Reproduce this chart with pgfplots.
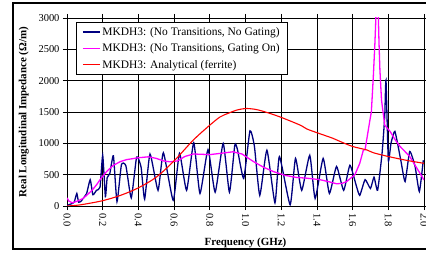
\documentclass[border=0pt]{standalone}
\usepackage{fontspec}
\setmainfont{Liberation Serif}
\usepackage{pgfplots}
\pgfplotsset{compat=1.18}
\definecolor{navyb}{RGB}{0,0,128}
\definecolor{magp}{RGB}{255,0,255}
\definecolor{redl}{RGB}{255,0,0}
\begin{document}
\begin{tikzpicture}[x=1bp,y=1bp]
\useasboundingbox (-67bp,-48bp) rectangle (359bp,206bp);
\draw[line width=1.2bp] (-54bp,-43bp) rectangle (365bp,203bp);
\begin{axis}[
  at={(0,0)}, anchor=south west,
  scale only axis, width=357bp, height=188bp,
  xmin=0, xmax=2, ymin=0, ymax=3000,
  xtick={0,0.2,...,2.01}, ytick={0,500,...,3000},
  tick align=outside, major tick length=4bp,
  grid=major, grid style={black, line width=0.7bp},
  axis line style={black, line width=0.9bp},
  tick style={black, line width=0.8bp},
  xticklabel style={rotate=-90, anchor=west, font=\fontsize{10.5}{12}\selectfont},
  yticklabel style={font=\fontsize{10.5}{12}\selectfont},
  /pgf/number format/assume math mode=true,
  xticklabel={\pgfmathprintnumber[fixed,precision=1,fixed zerofill]{\tick}},
  yticklabel={\pgfmathprintnumber[fixed,precision=0,1000 sep={}]{\tick}},
  scaled x ticks=false, scaled y ticks=false,
  xlabel={\textbf{Frequency (GHz)}},
  ylabel={\textbf{Real Longitudinal Impedance (Ω/m)}},
  label style={font=\fontsize{11}{13}\selectfont},
  xlabel style={yshift=-4bp},
  ylabel style={yshift=3bp},
  legend style={at={(0.025,0.979)}, anchor=north west, draw=black,
    fill=white, font=\fontsize{11.5}{13}\selectfont, row sep=3bp,
    inner xsep=6bp, inner ysep=3bp, cells={anchor=west}},
  legend cell align=left,
  clip=true,
]
\addplot[navyb, line width=1.3bp, smooth, tension=0.3] coordinates {
(0.00,10) (0.02,30) (0.04,60) (0.055,200) (0.065,60) (0.08,80) (0.09,120) (0.11,200)
(0.13,420) (0.145,180) (0.165,250) (0.185,300) (0.20,810) (0.215,150) (0.225,450)
(0.24,520) (0.26,800) (0.28,70) (0.305,660) (0.33,640) (0.36,130) (0.39,780) (0.415,620)
(0.435,110) (0.465,830) (0.51,250) (0.54,850) (0.595,90) (0.63,840) (0.67,250) (0.71,1010)
(0.745,200) (0.79,900) (0.83,220) (0.875,1000) (0.91,220) (0.94,970) (0.955,900) (0.99,440)
(1.025,1200) (1.05,950) (1.08,170) (1.12,890) (1.165,50) (1.19,790) (1.25,20) (1.28,760)
(1.315,250) (1.36,810) (1.39,120) (1.435,760) (1.47,200) (1.51,630) (1.55,250) (1.585,650)
(1.62,330) (1.64,170) (1.67,420) (1.70,280) (1.72,460) (1.74,250) (1.765,840) (1.78,1430)
(1.787,2010) (1.80,730) (1.815,1000) (1.837,1190) (1.87,730) (1.894,390) (1.92,870)
(1.95,630) (1.974,230) (1.996,730)
};
\addlegendentry{MKDH3: (No Transitions, No Gating)}
\addplot[magp, line width=1.3bp] coordinates {
(0.00,130) (0.01,80) (0.03,50) (0.06,80) (0.09,120) (0.11,170) (0.14,250) (0.166,340)
(0.19,440) (0.222,550) (0.26,650) (0.30,710) (0.334,740) (0.40,770) (0.456,785) (0.50,760)
(0.54,720) (0.577,705) (0.62,720) (0.66,790) (0.708,830) (0.80,820) (0.86,840) (0.93,865)
(0.98,830) (1.044,710) (1.10,620) (1.156,550) (1.22,490) (1.287,455) (1.34,445) (1.417,420)
(1.47,385) (1.51,355) (1.54,360) (1.567,390) (1.60,470) (1.613,500) (1.64,680) (1.66,890)
(1.67,900) (1.697,1370) (1.705,1500) (1.716,2060) (1.725,2600) (1.731,3050) (1.744,3050)
(1.748,2600) (1.753,2170) (1.762,1690) (1.78,1290) (1.81,1190) (1.84,1050) (1.866,950)
(1.92,790) (1.95,650) (1.978,520) (2.00,415)
};
\addlegendentry{MKDH3: (No Transitions, Gating On)}
\addplot[redl, line width=1.1bp, smooth] coordinates {
(0.00,0) (0.05,10) (0.1,30) (0.2,85) (0.3,170) (0.4,290) (0.5,460) (0.6,720)
(0.708,1053) (0.80,1290) (0.857,1420) (0.904,1480) (0.95,1530) (1.00,1555) (1.05,1545)
(1.10,1510) (1.19,1425) (1.305,1292) (1.343,1230) (1.40,1170) (1.49,1080) (1.53,1030)
(1.60,950) (1.68,894) (1.716,850) (1.80,790) (1.90,730) (2.00,681)
};
\addlegendentry{MKDH3: Analytical (ferrite)}
\end{axis}
\end{tikzpicture}
\end{document}
